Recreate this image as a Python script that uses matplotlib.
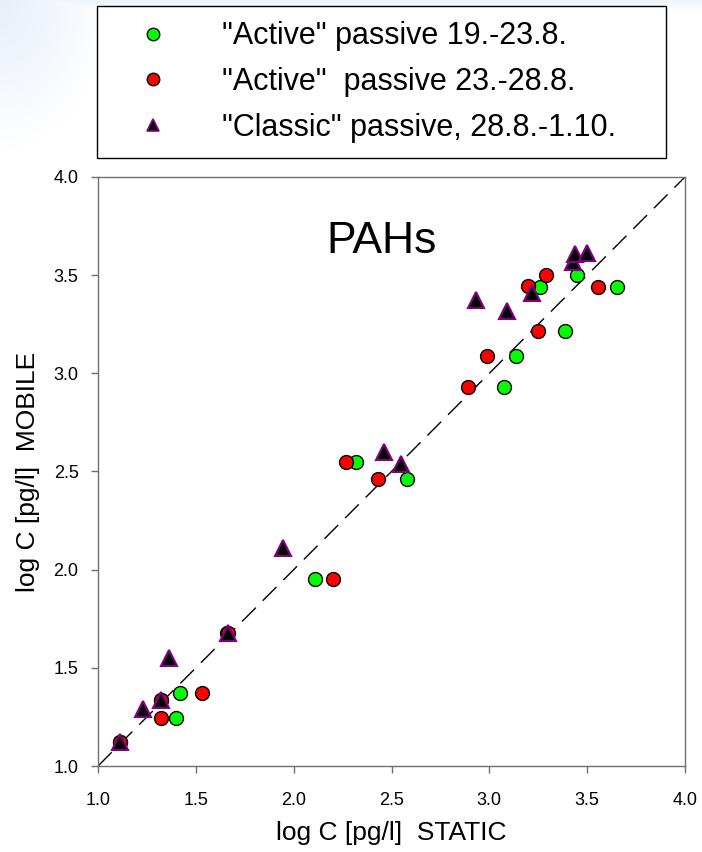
import numpy as np
import matplotlib
matplotlib.use('Agg')
import matplotlib.pyplot as plt

plt.rcParams['font.family'] = ['Liberation Sans', 'DejaVu Sans']

# "Active" passive 19.-23.8.
green_x = [1.11, 1.32, 1.66, 1.42, 1.40, 2.11, 2.32, 2.58, 3.075, 3.135, 3.385, 3.26, 3.45, 3.65]
green_y = [1.12, 1.335, 1.675, 1.37, 1.245, 1.95, 2.55, 2.46, 2.93, 3.09, 3.215, 3.44, 3.50, 3.44]
# "Active" passive 23.-28.8.
red_x = [1.11, 1.32, 1.53, 1.32, 1.665, 2.20, 2.265, 2.43, 2.89, 2.99, 3.25, 3.20, 3.29, 3.555]
red_y = [1.12, 1.245, 1.37, 1.335, 1.675, 1.95, 2.55, 2.46, 2.93, 3.09, 3.215, 3.445, 3.50, 3.44]
# "Classic" passive, 28.8.-1.10.
tri_x = [1.11, 1.23, 1.32, 1.365, 1.665, 1.945, 2.46, 2.55, 2.93, 3.09, 3.22, 3.43, 3.44, 3.50]
tri_y = [1.12, 1.29, 1.335, 1.55, 1.675, 2.11, 2.60, 2.54, 3.375, 3.315, 3.41, 3.565, 3.61, 3.615]

labels = ['"Active" passive 19.-23.8.', '"Active"  passive 23.-28.8.', '"Classic" passive, 28.8.-1.10.']

fig = plt.figure(figsize=(7.02, 8.52), dpi=100)

# faint bluish slide background in the top left corner
bg = fig.add_axes([0, 0, 1, 1], zorder=-5)
yy, xx = np.mgrid[0:852, 0:702]
shade = np.clip(1 - np.hypot(xx / 110.0, yy / 150.0), 0, 1) * 0.7
shade = np.maximum(shade, np.clip(1 - yy / 12.0, 0, 1) * 0.4)
rgba = np.zeros((852, 702, 4))
rgba[..., 0] = 0.86
rgba[..., 1] = 0.91
rgba[..., 2] = 0.97
rgba[..., 3] = shade
bg.imshow(rgba, aspect='auto', interpolation='bilinear')
bg.axis('off')

ax = fig.add_axes([0.1396, 0.1009, 0.8362, 0.6914])

ax.plot([1, 4], [1, 4], color='black', lw=1, dashes=(14, 7), zorder=1)

ax.plot(green_x, green_y, 'o', ms=10, mfc='#00ff00', mec='black', mew=1, ls='none', zorder=2)
ax.plot(red_x, red_y, 'o', ms=10, mfc='#ff0000', mec='black', mew=1, ls='none', zorder=3)
ax.plot(tri_x, tri_y, '^', ms=11, mfc='black', mec='#800080', mew=1.5, ls='none', zorder=4)

ax.text(2.45, 3.67, 'PAHs', fontsize=32, ha='center', va='center')

ax.set_xlim(1, 4)
ax.set_ylim(1, 4)
ticks = [1.0, 1.5, 2.0, 2.5, 3.0, 3.5, 4.0]
ax.set_xticks(ticks)
ax.set_yticks(ticks)
ax.set_xticklabels(['%.1f' % v for v in ticks])
ax.set_yticklabels(['%.1f' % v for v in ticks])
ax.tick_params(direction='out', length=5, width=1, color='#707070', labelsize=13)
ax.tick_params(axis='x', pad=14)
ax.tick_params(axis='y', pad=9)
for s in ax.spines.values():
    s.set_color('#707070')
    s.set_linewidth(1)

ax.set_xlabel('log C [pg/l]  STATIC', fontsize=19, labelpad=8)
ax.set_ylabel('log C [pg/l]  MOBILE', fontsize=19, labelpad=10)

small_g, = ax.plot([], [], 'o', ms=9, mfc='#00ff00', mec='black', mew=1, ls='none')
small_r, = ax.plot([], [], 'o', ms=9, mfc='#ff0000', mec='black', mew=1, ls='none')
small_t, = ax.plot([], [], '^', ms=8, mfc='black', mec='#800080', mew=1.2, ls='none')
leg = fig.legend([small_g, small_r, small_t], labels, loc='upper left', mode='expand',
                 bbox_to_anchor=(97 / 702, 1 - 158 / 852, 569 / 702, 152 / 852),
                 prop={'size': 22}, frameon=True, fancybox=False,
                 edgecolor='black', framealpha=1, handletextpad=0.92, labelspacing=0.52,
                 borderpad=0.5, borderaxespad=0, handlelength=2.66)
leg.get_frame().set_linewidth(1)

fig.savefig('out.png', dpi=100)
